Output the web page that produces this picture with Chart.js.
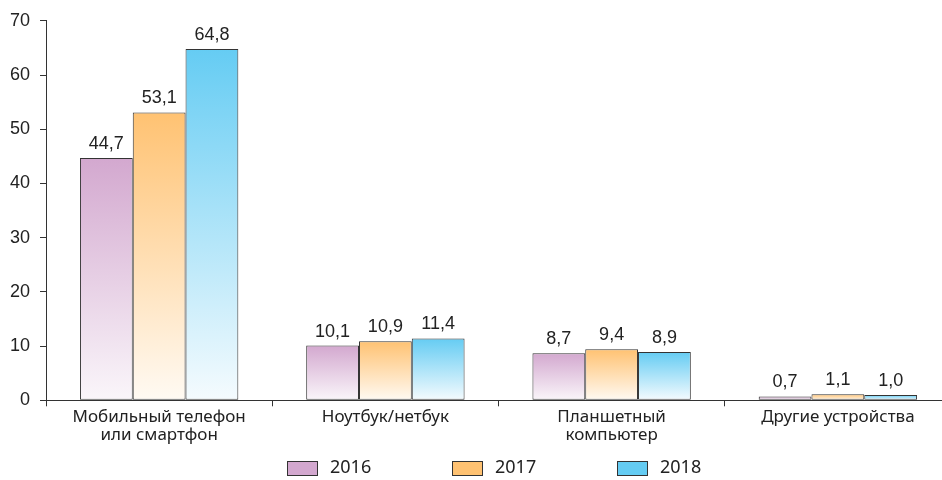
<!DOCTYPE html>
<html>
<head>
<meta charset="utf-8">
<script src="https://cdn.jsdelivr.net/npm/chart.js"></script>
<style>
  body { margin: 0; background: #fff; overflow: hidden; }
  /* the source picture is cut on the right, so the chart runs a little past the window */
  #wrap { width: 951px; height: 480px; }
</style>
</head>
<body>
<div id="wrap"><canvas id="bar-chart"></canvas></div>
<script>
var categories = [["Мобильный телефон", "или смартфон"], "Ноутбук/нетбук", ["Планшетный", "компьютер"], "Другие устройства"];
var years = ["2016", "2017", "2018"];
var values2016 = [44.7, 10.1, 8.7, 0.7];
var values2017 = [53.1, 10.9, 9.4, 1.1];
var values2018 = [64.8, 11.4, 8.9, 1.0];
var yTicks = [0, 10, 20, 30, 40, 50, 60, 70];

var topColors = ["#d3a8cf", "#ffc272", "#65ccf3"];
var bottomColors = ["#faf6fa", "#fffaf3", "#f5fbfe"];
var numFont = '18px "Liberation Sans Narrow", "Liberation Sans", sans-serif';

// vertical gradient per bar, from its top down to zero
function grad(i) {
  return function(ctx) {
    var chart = ctx.chart, y = chart.scales.y;
    if (!chart.chartArea || !y || ctx.raw === undefined) return topColors[i];
    var top = y.getPixelForValue(ctx.raw), base = y.getPixelForValue(0);
    var g = chart.ctx.createLinearGradient(0, top, 0, base);
    g.addColorStop(0, topColors[i]);
    g.addColorStop(1, bottomColors[i]);
    return g;
  };
}

var valueLabels = {
  id: 'valueLabels',
  afterDatasetsDraw: function(chart) {
    var c = chart.ctx;
    c.save();
    c.font = numFont;
    c.fillStyle = '#222';
    c.textAlign = 'center';
    c.textBaseline = 'bottom';
    chart.data.datasets.forEach(function(ds, i) {
      chart.getDatasetMeta(i).data.forEach(function(bar, j) {
        c.fillText(ds.data[j].toFixed(1).replace('.', ','), bar.x, bar.y - 5);
      });
    });
    c.restore();
  }
};

var bottomLegend = {
  id: 'bottomLegend',
  afterDraw: function(chart) {
    var c = chart.ctx, step = 165;
    c.save();
    c.font = '18px "Noto Sans", sans-serif';
    c.textBaseline = 'middle';
    c.textAlign = 'left';
    years.forEach(function(y, i) {
      var x = 287 + i * step;
      c.fillStyle = topColors[i];
      c.fillRect(x + 0.5, 461.5, 30, 14);
      c.strokeStyle = '#333';
      c.lineWidth = 1;
      c.strokeRect(x + 0.5, 461.5, 30, 14);
      c.fillStyle = '#222';
      c.fillText(y, x + 43, 468);
    });
    c.restore();
  }
};

var series = [values2016, values2017, values2018];
new Chart(document.getElementById("bar-chart"), {
  type: 'bar',
  data: {
    labels: categories,
    datasets: series.map(function(d, i) {
      return {
        label: years[i],
        data: d,
        backgroundColor: grad(i),
        borderColor: "#333",
        borderWidth: 1,
        borderSkipped: false,
        categoryPercentage: 0.7,
        barPercentage: 1.0
      };
    })
  },
  options: {
    responsive: true,
    maintainAspectRatio: false,
    animation: false,
    layout: { padding: { top: 14, right: 0, left: 0, bottom: 34 } },
    plugins: {
      legend: { display: false },
      tooltip: { enabled: false }
    },
    scales: {
      x: {
        grid: { display: true, drawOnChartArea: false, offset: true, color: '#333', tickLength: 6 },
        border: { color: '#333', width: 1 },
        ticks: { color: '#222', font: { size: 17, family: '"Noto Sans", sans-serif', lineHeight: 1.05 }, maxRotation: 0, padding: 2 }
      },
      y: {
        min: 0, max: 70,
        afterBuildTicks: function(axis) { axis.ticks = yTicks.map(function(v) { return { value: v }; }); },
        grid: { display: true, drawOnChartArea: false, color: '#333', tickLength: 6 },
        border: { color: '#333', width: 1 },
        ticks: { color: '#222', font: { size: 18, family: '"Liberation Sans Narrow", "Liberation Sans", sans-serif' }, padding: 10 }
      }
    }
  },
  plugins: [valueLabels, bottomLegend]
});
</script>
</body>
</html>
